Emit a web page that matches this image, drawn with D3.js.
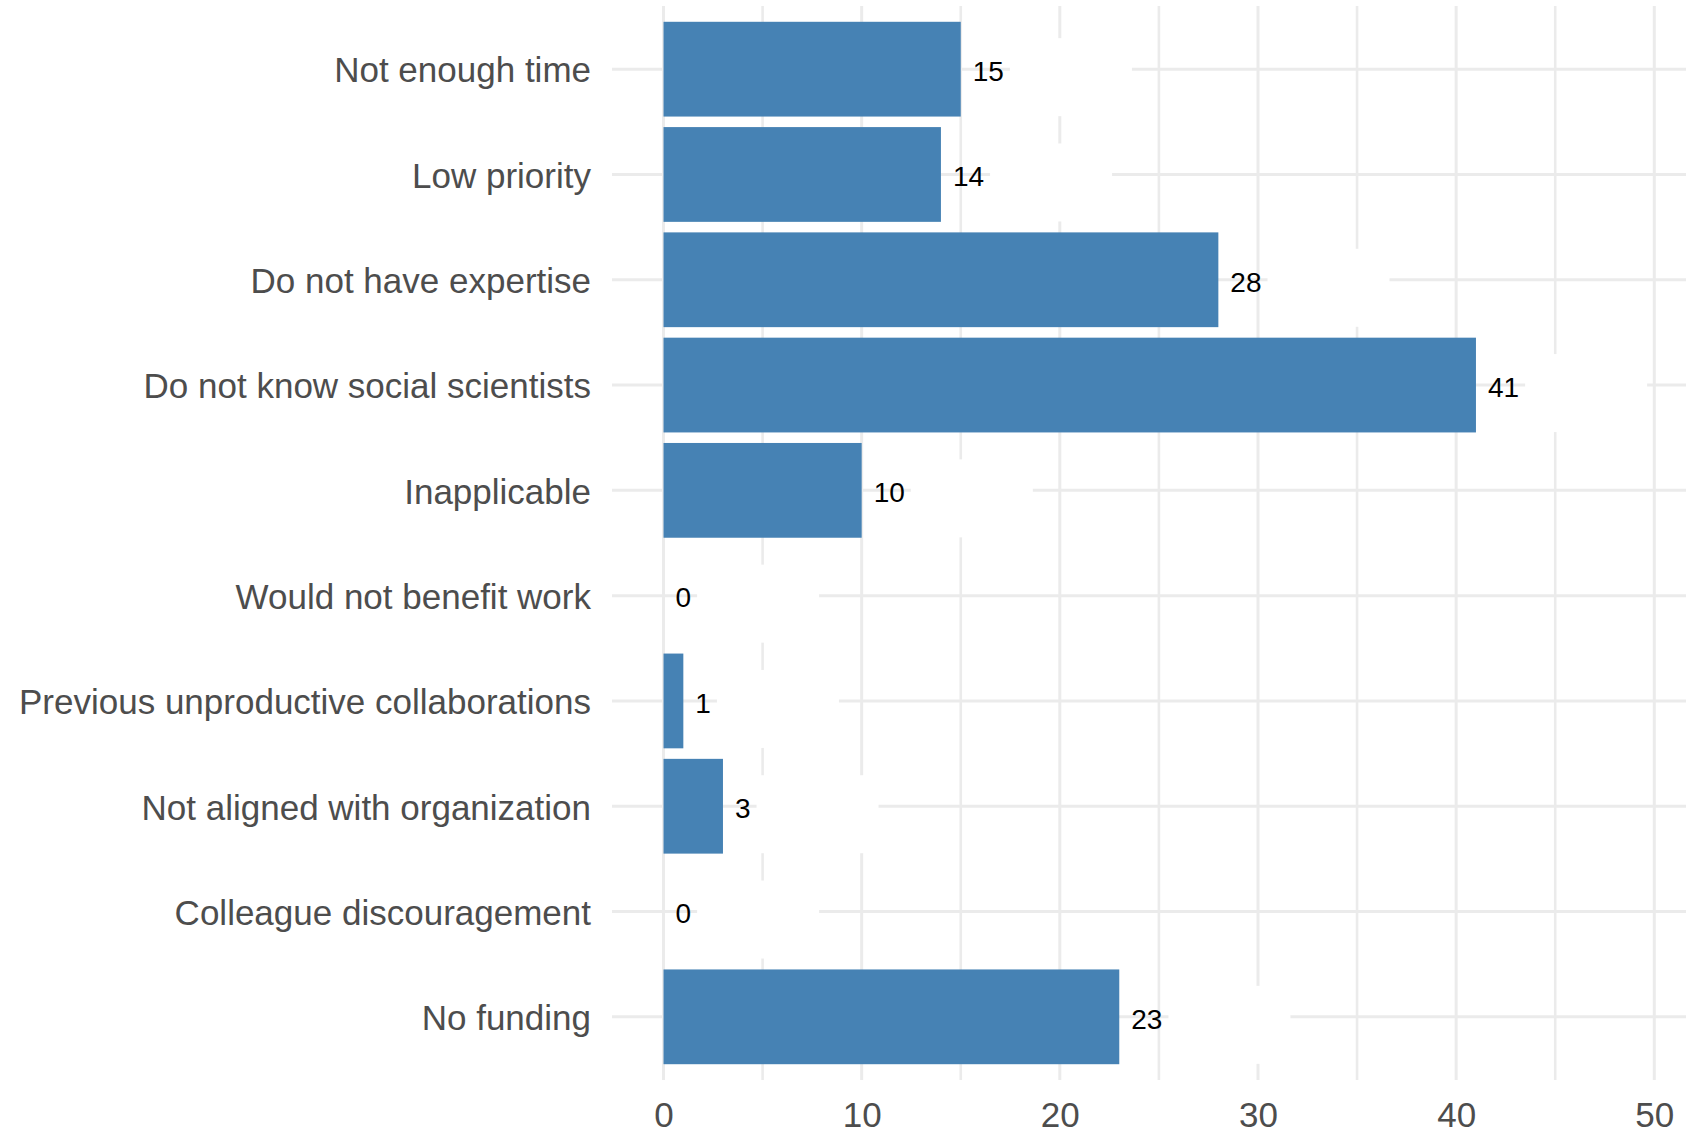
<!DOCTYPE html>
<html>
<head>
<meta charset="utf-8">
<script src="https://cdn.jsdelivr.net/npm/d3@7"></script>
<style>
  html, body { margin: 0; padding: 0; background: #ffffff; }
  svg { display: block; font-family: "Liberation Sans", Arial, sans-serif; }
</style>
</head>
<body>
<script>
const categories = [
  "Not enough time",
  "Low priority",
  "Do not have expertise",
  "Do not know social scientists",
  "Inapplicable",
  "Would not benefit work",
  "Previous unproductive collaborations",
  "Not aligned with organization",
  "Colleague discouragement",
  "No funding"
];
const values = [15, 14, 28, 41, 10, 0, 1, 3, 0, 23];
const xTicks = [0, 10, 20, 30, 40, 50];
const xMinorTicks = [5, 15, 25, 35, 45];

const W = 1686, H = 1139;
const panel = { left: 612, right: 1686, top: 6, bottom: 1080 };

const svg = d3.select("body").append("svg")
  .attr("width", W).attr("height", H);

const x = d3.scaleLinear().domain([-2.6, 51.6]).range([panel.left, panel.right]);
const y = d3.scaleBand().domain(categories)
  .range([panel.top, panel.bottom]).paddingInner(0.1).paddingOuter(0.15);
const yc = c => y(c) + y.bandwidth() / 2;

const grid = svg.append("g");
grid.selectAll("line.vminor").data(xMinorTicks).join("line")
  .attr("x1", d => x(d)).attr("x2", d => x(d))
  .attr("y1", panel.top).attr("y2", panel.bottom)
  .attr("stroke", "#EBEBEB").attr("stroke-width", 2.6);
grid.selectAll("line.vmajor").data(xTicks).join("line")
  .attr("x1", d => x(d)).attr("x2", d => x(d))
  .attr("y1", panel.top).attr("y2", panel.bottom)
  .attr("stroke", "#EBEBEB").attr("stroke-width", 3);
grid.selectAll("line.h").data(categories).join("line")
  .attr("x1", panel.left).attr("x2", panel.right)
  .attr("y1", d => yc(d)).attr("y2", d => yc(d))
  .attr("stroke", "#EBEBEB").attr("stroke-width", 3);

const data = categories.map((c, i) => ({ c, v: values[i] }));

const labelFont = 28;
const tmp = svg.append("text").attr("font-size", labelFont);
data.forEach(d => { tmp.text(String(d.v)); d.tw = tmp.node().getComputedTextLength(); });
tmp.remove();

// white label backgrounds (interrupt gridlines to the right of the values)
svg.append("g").selectAll("rect").data(data).join("rect")
  .attr("x", d => x(d.v) + 12 + d.tw + 6)
  .attr("y", d => yc(d.c) + 8 - 39)
  .attr("width", 122)
  .attr("height", 78)
  .attr("fill", "#ffffff");

svg.append("g").selectAll("rect").data(data).join("rect")
  .attr("x", x(0))
  .attr("y", d => y(d.c))
  .attr("width", d => x(d.v) - x(0))
  .attr("height", y.bandwidth())
  .attr("fill", "#4682B4");

svg.append("g").selectAll("text").data(data).join("text")
  .attr("x", d => x(d.v) + 12)
  .attr("y", d => yc(d.c))
  .attr("dy", "0.42em")
  .attr("font-size", labelFont)
  .attr("fill", "#000000")
  .text(d => d.v);

const yAxis = d3.axisLeft(y).tickSize(0).tickPadding(21);
const gy = svg.append("g").attr("transform", `translate(${panel.left},0)`).call(yAxis);
gy.select(".domain").remove();
gy.selectAll("text")
  .attr("dy", "0.38em")
  .attr("font-size", 35)
  .attr("font-family", "'Liberation Sans', Arial, sans-serif")
  .attr("fill", "#4D4D4D");

const xAxis = d3.axisBottom(x).tickValues(xTicks).tickSize(0).tickPadding(22).tickFormat(d3.format("d"));
const gx = svg.append("g").attr("transform", `translate(0,${panel.bottom})`).call(xAxis);
gx.select(".domain").remove();
gx.selectAll("text")
  .attr("font-size", 35)
  .attr("font-family", "'Liberation Sans', Arial, sans-serif")
  .attr("fill", "#4D4D4D");
</script>
</body>
</html>
